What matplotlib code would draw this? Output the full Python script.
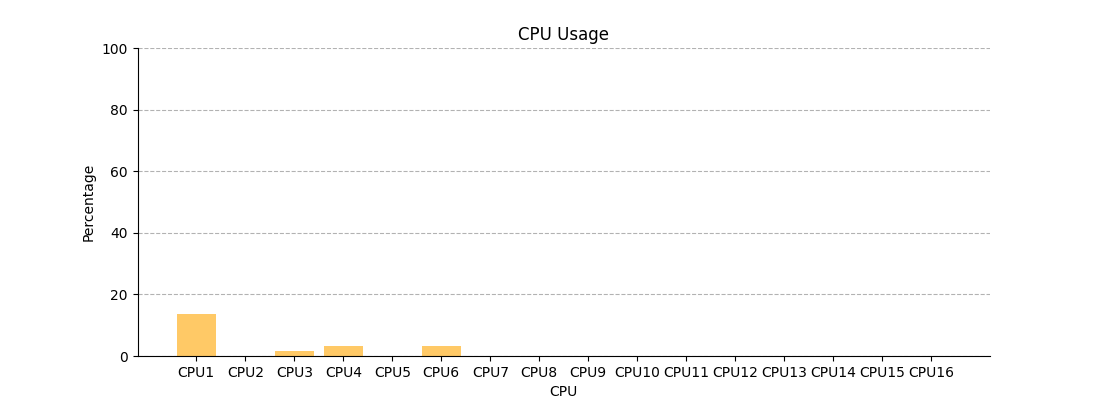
import matplotlib
matplotlib.use("Agg")
import matplotlib.pyplot as plt

cpus = ["CPU%d" % i for i in range(1, 17)]
usage = [13.6, 0.0, 1.6, 3.2, 0.0, 3.2, 0.0, 0.0,
         0.0, 0.0, 0.0, 0.0, 0.0, 0.0, 0.0, 0.0]

fig, ax = plt.subplots(figsize=(11, 4), dpi=100)
ax.bar(cpus, usage, width=0.8, color='orange', alpha=0.6)
ax.set_xlim(-1.2, 16.2)
ax.set_ylim(0, 100)
ax.set_title('CPU Usage')
ax.set_xlabel('CPU')
ax.set_ylabel('Percentage')
ax.yaxis.grid(True, linestyle='--', color='gray', alpha=0.6)
ax.set_axisbelow(True)
ax.spines['top'].set_visible(False)
ax.spines['right'].set_visible(False)

plt.savefig('out.png')
